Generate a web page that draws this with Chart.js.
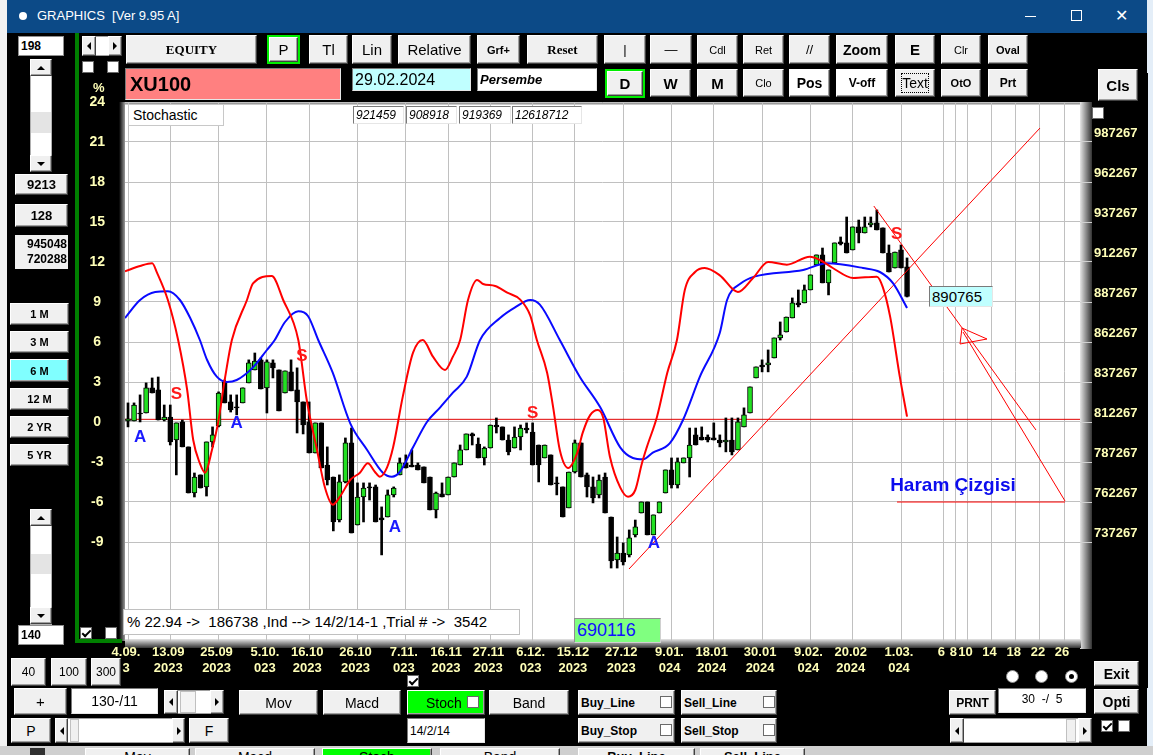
<!DOCTYPE html>
<html>
<head>
<meta charset="utf-8">
<title>GRAPHICS - XU100 Stochastic</title>
<script src="https://cdn.jsdelivr.net/npm/chart.js@4.4.0/dist/chart.umd.min.js"></script>
<style>
html,body{margin:0;padding:0;width:1153px;height:755px;overflow:hidden;background:#f2f2f2;font-family:"Liberation Sans",Arial,sans-serif;}
.a{position:absolute;box-sizing:border-box;}
.b{position:absolute;box-sizing:border-box;background:#f0f0f0;border:1px solid;border-color:#ffffff #404040 #404040 #ffffff;box-shadow:inset -1px -1px 0 #a0a0a0;display:flex;align-items:center;justify-content:center;color:#000;font-size:13px;white-space:nowrap;}
.s{position:absolute;box-sizing:border-box;background:#fff;border:1px solid;border-color:#7a7a7a #e6e6e6 #e6e6e6 #7a7a7a;display:flex;align-items:center;color:#000;white-space:pre;padding-left:2px;}
.cb{position:absolute;box-sizing:border-box;width:12px;height:12px;background:#fff;border:1px solid #6a6a6a;}
.cb.on::after{content:"";position:absolute;left:3px;top:0px;width:3px;height:7px;border:solid #000;border-width:0 2px 2px 0;transform:rotate(45deg);}
.tl{width:0;height:0;border-top:4px solid transparent;border-bottom:4px solid transparent;border-right:4px solid #000;}
.tr{width:0;height:0;border-top:4px solid transparent;border-bottom:4px solid transparent;border-left:4px solid #000;}
.tu{width:0;height:0;border-left:4px solid transparent;border-right:4px solid transparent;border-bottom:4px solid #000;}
.td{width:0;height:0;border-left:4px solid transparent;border-right:4px solid transparent;border-top:4px solid #000;}
.rad{position:absolute;box-sizing:border-box;width:13px;height:13px;border-radius:50%;background:#fff;border:1px solid #909090;}
</style>
</head>
<body>
<!-- window -->
<div class="a" style="left:1147px;top:0;width:6px;height:755px;background:#e4eef8"></div>
<div class="a" style="left:7px;top:0;width:1140px;height:746px;background:#000"></div>
<div class="a" style="left:7px;top:0;width:1140px;height:33px;background:#0c4a87"></div>
<div class="a" style="left:19px;top:12px;width:8px;height:8px;border-radius:50%;background:#fff"></div>
<div class="a" style="left:37px;top:8px;color:#fff;font-size:13px;white-space:pre">GRAPHICS  [Ver 9.95 A]</div>
<div class="a" style="left:1025px;top:16px;width:11px;height:1px;background:#fff"></div>
<div class="a" style="left:1071px;top:10px;width:11px;height:11px;border:1px solid #fff"></div>
<div class="a" style="left:1115px;top:6px;color:#fff;font-size:16px">✕</div>

<canvas id="c" width="1070" height="615" style="position:absolute;left:78px;top:73px;"></canvas>

<!-- green frame -->
<div class="a" style="left:75px;top:33px;width:4px;height:610px;background:#007f00"></div>
<div class="a" style="left:75px;top:639px;width:47px;height:4px;background:#007f00"></div>

<!-- left panel -->
<div class="s" style="left:18px;top:36px;width:46px;height:20px;font-weight:bold;font-size:12px;border:1px solid #909090">198</div>
<div class="a" style="left:30px;top:59px;width:22px;height:113px;background:#fff;border:1px solid #b0b0b0"></div>
<div class="b" style="left:30px;top:59px;width:22px;height:17px;"><div class="tu"></div></div>
<div class="a" style="left:31px;top:112px;width:20px;height:21px;background:#e4e4e4"></div>
<div class="b" style="left:30px;top:155px;width:22px;height:17px;"><div class="td"></div></div>
<div class="b" style="left:15px;top:174px;width:53px;height:21px;font-weight:bold;font-size:13px">9213</div>
<div class="b" style="left:15px;top:204px;width:53px;height:23px;font-weight:bold;font-size:13px">128</div>
<div class="a" style="left:15px;top:235px;width:53px;height:34px;background:#f0f0f0;font-weight:bold;font-size:12px;text-align:right;line-height:15px;padding:2px 1px 0 0">945048<br>720288</div>
<div class="b" style="left:10px;top:303px;width:59px;height:22px;font-weight:bold;font-size:11px">1 M</div>
<div class="b" style="left:10px;top:331px;width:59px;height:22px;font-weight:bold;font-size:11px">3 M</div>
<div class="b" style="left:10px;top:359px;width:59px;height:23px;font-weight:bold;font-size:11px;background:#80ffff">6 M</div>
<div class="b" style="left:10px;top:388px;width:59px;height:22px;font-weight:bold;font-size:11px">12 M</div>
<div class="b" style="left:10px;top:416px;width:59px;height:22px;font-weight:bold;font-size:11px">2 YR</div>
<div class="b" style="left:10px;top:444px;width:59px;height:22px;font-weight:bold;font-size:11px">5 YR</div>
<div class="a" style="left:30px;top:509px;width:22px;height:116px;background:#fff;border:1px solid #b0b0b0"></div>
<div class="b" style="left:30px;top:509px;width:22px;height:17px;"><div class="tu"></div></div>
<div class="a" style="left:31px;top:554px;width:20px;height:20px;background:#e4e4e4"></div>
<div class="b" style="left:30px;top:607px;width:22px;height:17px;"><div class="td"></div></div>
<div class="s" style="left:18px;top:625px;width:46px;height:20px;font-weight:bold;font-size:12px;border:1px solid #909090">140</div>

<!-- top arrows, checkboxes, % -->
<div class="a" style="left:82px;top:36px;width:40px;height:20px;background:#fff;border:1px solid #a0a0a0"></div>
<div class="b" style="left:82px;top:36px;width:14px;height:20px;"><div class="tl"></div></div>
<div class="b" style="left:108px;top:36px;width:14px;height:20px;"><div class="tr"></div></div>
<div class="cb" style="left:82px;top:61px"></div>
<div class="cb" style="left:107px;top:61px"></div>
<div class="a" style="left:93px;top:80px;color:#ffffb8;font-weight:bold;font-size:13px">%</div>

<!-- top button row 1 -->
<div class="b" style="left:126px;top:35px;width:131px;height:29px;font-family:'Liberation Serif',serif;font-weight:bold;font-size:13px">EQUITY</div>
<div class="b" style="left:269px;top:37px;width:29px;height:25px;font-size:15px;outline:2px solid #00ee00">P</div>
<div class="b" style="left:309px;top:35px;width:39px;height:29px;font-size:15px">Tl</div>
<div class="b" style="left:352px;top:35px;width:40px;height:29px;font-size:15px">Lin</div>
<div class="b" style="left:398px;top:35px;width:73px;height:29px;font-size:15px">Relative</div>
<div class="b" style="left:477px;top:35px;width:43px;height:29px;font-size:11px;font-weight:bold">Grf+</div>
<div class="b" style="left:527px;top:35px;width:71px;height:29px;font-family:'Liberation Serif',serif;font-weight:bold;font-size:13px">Reset</div>
<div class="b" style="left:604px;top:35px;width:42px;height:29px;font-size:13px">|</div>
<div class="b" style="left:650px;top:35px;width:42px;height:29px;font-size:13px">—</div>
<div class="b" style="left:697px;top:35px;width:41px;height:29px;font-size:11px">Cdl</div>
<div class="b" style="left:743px;top:35px;width:41px;height:29px;font-size:11px">Ret</div>
<div class="b" style="left:789px;top:35px;width:41px;height:29px;font-size:13px">//</div>
<div class="b" style="left:836px;top:35px;width:52px;height:29px;font-size:14px;font-weight:bold">Zoom</div>
<div class="b" style="left:895px;top:35px;width:40px;height:29px;font-size:15px;font-weight:bold">E</div>
<div class="b" style="left:941px;top:35px;width:40px;height:29px;font-size:11px">Clr</div>
<div class="b" style="left:988px;top:35px;width:40px;height:29px;font-size:11px;font-weight:bold">Oval</div>

<!-- row 2 -->
<div class="s" style="left:125px;top:68px;width:216px;height:32px;background:#ff8080;font-weight:bold;font-size:20px;padding-left:4px">XU100</div>
<div class="s" style="left:352px;top:68px;width:119px;height:23px;background:#c0ffff;font-size:16px">29.02.2024</div>
<div class="s" style="left:477px;top:68px;width:120px;height:23px;font-style:italic;font-weight:bold;font-size:13px">Persembe</div>
<div class="b" style="left:607px;top:71px;width:36px;height:25px;font-size:15px;font-weight:bold;outline:2px solid #00ee00">D</div>
<div class="b" style="left:650px;top:69px;width:41px;height:28px;font-size:15px;font-weight:bold">W</div>
<div class="b" style="left:697px;top:69px;width:41px;height:28px;font-size:15px;font-weight:bold">M</div>
<div class="b" style="left:743px;top:69px;width:41px;height:28px;font-size:11px">Clo</div>
<div class="b" style="left:789px;top:69px;width:41px;height:28px;font-size:14px;font-weight:bold;background:#fff">Pos</div>
<div class="b" style="left:836px;top:69px;width:52px;height:28px;font-size:12px;font-weight:bold;background:#fff">V-off</div>
<div class="b" style="left:895px;top:69px;width:40px;height:28px;font-size:14px"><span style="border:1px dotted #000;padding:1px 0">Text</span></div>
<div class="b" style="left:941px;top:69px;width:40px;height:28px;font-size:11px;font-weight:bold">OtO</div>
<div class="b" style="left:988px;top:69px;width:40px;height:28px;font-size:12px;font-weight:bold">Prt</div>
<div class="b" style="left:1098px;top:69px;width:40px;height:32px;font-size:15px;font-weight:bold">Cls</div>
<div class="cb" style="left:1092px;top:107px"></div>

<!-- chart overlays -->
<div class="a" style="left:128px;top:104px;width:96px;height:22px;background:#fff;border:1px solid #c8c8c8;font-size:14px;padding:2px 0 0 4px;white-space:pre">Stochastic</div>
<div class="s" style="left:353px;top:106px;width:51px;height:18px;font-style:italic;font-size:12px">921459</div>
<div class="s" style="left:406px;top:106px;width:51px;height:18px;font-style:italic;font-size:12px">908918</div>
<div class="s" style="left:459px;top:106px;width:52px;height:18px;font-style:italic;font-size:12px">919369</div>
<div class="s" style="left:512px;top:106px;width:70px;height:18px;font-style:italic;font-size:12px">12618712</div>
<div class="s" style="left:929px;top:286px;width:64px;height:21px;background:#c0ffff;font-size:15px">890765</div>
<div class="a" style="left:123px;top:609px;width:397px;height:26px;background:#fff;border:1px solid #c0c0c0;font-size:15px;padding:3px 0 0 3px;white-space:pre">% 22.94 -&gt;  186738 ,Ind --&gt; 14/2/14-1 ,Trial # -&gt;  3542</div>
<div class="a" style="left:574px;top:618px;width:87px;height:25px;background:#80ff80;border:1px solid;border-color:#909090 #d0d0d0 #d0d0d0 #909090;color:#1010ff;font-size:18px;padding:1px 0 0 2px">690116</div>
<div class="cb on" style="left:80px;top:627px"></div>
<div class="cb" style="left:105px;top:627px"></div>

<!-- bottom controls -->
<div class="b" style="left:11px;top:658px;width:35px;height:28px;font-size:12px">40</div>
<div class="b" style="left:51px;top:658px;width:36px;height:28px;font-size:12px">100</div>
<div class="b" style="left:91px;top:658px;width:30px;height:28px;font-size:12px">300</div>
<div class="b" style="left:14px;top:688px;width:53px;height:27px;font-size:15px">+</div>
<div class="s" style="left:71px;top:688px;width:87px;height:26px;font-size:14px;justify-content:center;padding:0">130-/11</div>
<div class="a" style="left:164px;top:690px;width:60px;height:24px;background:#fff;border:1px solid #a0a0a0"></div>
<div class="b" style="left:164px;top:690px;width:14px;height:24px;"><div class="tl"></div></div>
<div class="a" style="left:180px;top:691px;width:16px;height:22px;background:#f4f4f4;border:1px solid #c0c0c0"></div>
<div class="b" style="left:210px;top:690px;width:14px;height:24px;"><div class="tr"></div></div>
<div class="b" style="left:239px;top:690px;width:79px;height:25px;font-size:14px">Mov</div>
<div class="b" style="left:323px;top:690px;width:78px;height:25px;font-size:14px">Macd</div>
<div class="b" style="left:407px;top:690px;width:78px;height:25px;font-size:14px;background:#00ff00;justify-content:flex-start;padding-left:18px">Stoch</div>
<div class="cb" style="left:467px;top:696px"></div>
<div class="b" style="left:489px;top:690px;width:80px;height:25px;font-size:14px">Band</div>
<div class="cb on" style="left:407px;top:675px"></div>
<div class="s" style="left:407px;top:718px;width:78px;height:25px;font-size:12px">14/2/14</div>
<div class="b" style="left:11px;top:718px;width:40px;height:25px;font-size:14px">P</div>
<div class="a" style="left:55px;top:718px;width:130px;height:25px;background:#fff;border:1px solid #a0a0a0"></div>
<div class="b" style="left:55px;top:718px;width:13px;height:25px;"><div class="tl"></div></div>
<div class="a" style="left:70px;top:719px;width:9px;height:23px;background:#f0f0f0;border:1px solid #c0c0c0"></div>
<div class="b" style="left:172px;top:718px;width:13px;height:25px;"><div class="tr"></div></div>
<div class="b" style="left:189px;top:718px;width:40px;height:25px;font-size:14px">F</div>

<div class="b" style="left:578px;top:690px;width:97px;height:25px;font-size:12px;font-weight:bold;justify-content:flex-start;padding-left:2px">Buy_Line</div>
<div class="cb" style="left:660px;top:696px"></div>
<div class="b" style="left:681px;top:690px;width:96px;height:25px;font-size:12px;font-weight:bold;justify-content:flex-start;padding-left:2px">Sell_Line</div>
<div class="cb" style="left:763px;top:696px"></div>
<div class="b" style="left:578px;top:718px;width:97px;height:25px;font-size:12px;font-weight:bold;justify-content:flex-start;padding-left:2px">Buy_Stop</div>
<div class="cb" style="left:660px;top:724px"></div>
<div class="b" style="left:681px;top:718px;width:96px;height:25px;font-size:12px;font-weight:bold;justify-content:flex-start;padding-left:2px">Sell_Stop</div>
<div class="cb" style="left:763px;top:724px"></div>

<div class="rad" style="left:1006px;top:670px"></div>
<div class="rad" style="left:1035px;top:670px"></div>
<div class="rad" style="left:1065px;top:670px"></div>
<div class="a" style="left:1069px;top:674px;width:5px;height:5px;border-radius:50%;background:#000"></div>
<div class="b" style="left:1094px;top:661px;width:45px;height:25px;font-size:14px;font-weight:bold">Exit</div>
<div class="b" style="left:949px;top:690px;width:47px;height:25px;font-size:12px;font-weight:bold">PRNT</div>
<div class="s" style="left:998px;top:688px;width:88px;height:25px;font-size:12px;justify-content:center;padding:0;align-items:flex-start;padding-top:3px">30  -/  5</div>
<div class="b" style="left:1094px;top:689px;width:45px;height:25px;font-size:14px;font-weight:bold">Opti</div>
<div class="a" style="left:950px;top:718px;width:142px;height:25px;background:#fff;border:1px solid #a0a0a0"></div>
<div class="b" style="left:950px;top:718px;width:14px;height:25px;"><div class="tl"></div></div>
<div class="a" style="left:1066px;top:719px;width:10px;height:23px;background:#f0f0f0;border:1px solid #c0c0c0"></div>
<div class="b" style="left:1078px;top:718px;width:14px;height:25px;"><div class="tr"></div></div>
<div class="cb on" style="left:1101px;top:720px"></div>
<div class="cb" style="left:1118px;top:720px"></div>

<!-- window behind (bottom strip) -->
<div class="a" style="left:0;top:746px;width:1153px;height:9px;background:#cfcfcf;overflow:hidden">
  <div class="a" style="left:30px;top:2px;width:15px;height:20px;background:#303030"></div>
  <div class="b" style="left:85px;top:2px;width:105px;height:20px;font-size:14px;align-items:flex-start">Mav</div>
  <div class="b" style="left:195px;top:2px;width:120px;height:20px;font-size:14px;align-items:flex-start">Macd</div>
  <div class="b" style="left:322px;top:2px;width:110px;height:20px;font-size:14px;align-items:flex-start;background:#00ff00">Stoch</div>
  <div class="b" style="left:440px;top:2px;width:120px;height:20px;font-size:14px;align-items:flex-start">Band</div>
  <div class="b" style="left:578px;top:2px;width:117px;height:20px;font-size:13px;font-weight:bold;align-items:flex-start">Buy_Line</div>
  <div class="b" style="left:700px;top:2px;width:105px;height:20px;font-size:13px;font-weight:bold;align-items:flex-start">Sell_Line</div>
</div>

<script>
// ---------- DATA ----------
// trading-day index 0 = 4.09.2023 ... 129 = last bar
const tickIndex = [0,7,15,23,30,38,46,53,60,67,74,82,90,97,105,113,120,128,135,137,139,143,147,151,155];
const tickLabels = [["4.09.","3"],["13.09","2023"],["25.09","2023"],["5.10.","023"],["16.10","2023"],["26.10","2023"],
  ["7.11.","023"],["16.11","2023"],["27.11","2023"],["6.12.","023"],["15.12","2023"],["27.12","2023"],
  ["9.01.","024"],["18.01","2024"],["30.01","2024"],["9.02.","024"],["20.02","2024"],["1.03.","024"],
  "6","8","10","14","18","22","26"];
const pctTicks = [-9,-6,-3,0,3,6,9,12,15,18,21,24];
const priceTicks = [737267,762267,787267,812267,837267,862267,887267,912267,937267,962267,987267];

const open = [812900,812900,817900,817900,833600,832300,813500,815400,801000,812300,
796700,767900,779200,771700,799800,809800,837300,824800,821700,824200,
836700,844800,851100,833600,849200,844800,830400,843600,832300,824800,
812300,792900,811700,785400,777900,751000,774800,799200,747900,765400,
771700,771700,752300,752900,766700,779200,786700,785400,785400,784200,
777900,757300,767300,766700,777900,785400,794800,804800,798500,789800,
796000,810400,809200,801000,796000,802900,808500,806000,797900,789800,
791700,774200,771700,758600,781000,799200,779200,771700,766700,777900,
752900,726000,730400,729200,741700,755400,762300,741700,755400,767900,
782300,772900,786700,789800,804200,802900,802900,802300,801000,799800,
801000,794800,809200,817900,839800,847900,847900,852300,864800,868500,
877300,886700,886700,894800,910400,916700,899200,911700,924800,924200,
919800,934200,930400,935400,936700,933600,917900,908500,919800,909200];
const high = [824200,824200,829200,836700,839800,840400,822900,822900,811700,813500,
796700,780400,779200,799800,809200,831100,838500,829200,829200,833600,
851100,855400,852300,851100,851100,844800,844200,851100,846100,824800,
824800,811700,811700,796700,777900,779200,802300,808500,774200,774200,
774200,772900,759200,769800,771700,789800,791700,794800,786700,784200,
777900,768500,774200,777900,786700,797900,804800,805400,802300,796700,
810400,814800,809200,804200,809200,810400,811700,811700,797900,797900,
791700,777900,771700,781000,801000,799200,780400,777900,779200,780400,
752900,740400,736700,744800,751000,762300,762300,754200,762300,782300,
789800,789800,789800,808500,808500,809200,804200,811700,804200,814800,
814800,814800,821100,834200,846700,851100,857300,864800,874800,877900,
889800,894800,897900,904200,916700,921000,907300,924200,927900,940400,
934200,938500,940400,940400,944800,933600,922900,918500,922900,914800];
const low = [809200,812900,812300,817900,830400,813500,812900,797900,779200,796700,
767900,765400,771000,766000,796700,809200,824200,818500,816700,824200,
836700,844800,832900,817900,839800,819200,830400,831700,805400,804800,
792900,792900,783500,772900,744200,749800,774200,742900,747900,749800,
763500,749800,729200,752900,765400,779200,783500,784200,782300,774200,
757300,752300,765400,766700,777900,785400,794800,797900,789800,785400,
796000,805400,801000,791700,796000,794800,805400,785400,774800,789800,
772900,766700,752900,758600,780400,777900,765400,761700,764800,755400,
721000,721000,722900,727900,740400,755400,741700,741700,755400,767900,
771000,771000,786700,777900,797900,801000,799800,801000,796700,793600,
791700,794800,809200,817900,839800,843600,843600,852300,863500,868500,
877300,884200,886700,894800,910400,899200,891700,911700,922900,917900,
919800,924200,930400,934200,932300,917900,906000,908500,908500,890400];
const close = [814200,822900,817300,833600,830400,813500,815400,799800,811700,796700,
767900,777900,771000,799800,804200,830400,824200,819800,821100,833600,
849200,850400,832900,849800,846100,819200,844200,831700,824800,810400,
792900,811700,783500,776000,749800,774800,799200,742900,765400,771000,
771000,749800,751000,766700,771000,786700,783500,784200,782300,774200,
757300,767900,765400,777900,786700,794800,804800,803500,789800,796000,
810400,809200,801000,793600,802900,808500,807300,785400,785400,797900,
772900,773500,752900,781000,799200,777900,771700,764800,776000,755400,
725400,730400,724800,739800,746700,762300,741700,754200,762300,782300,
772900,787300,789800,797900,797900,801000,801000,801000,799200,801000,
793600,812300,816700,834200,846700,846700,849200,864800,866700,877900,
886700,885400,894800,904200,916700,899200,907300,924200,923500,917900,
934200,930400,934200,936700,932300,917900,906000,918500,908500,890765];

// Stochastic lines (percent axis), sampled where read
const redX = [-0.5,2.0,4.0,4.8,6.6,8.3,9.8,10.8,11.9,12.75,13.9,14.9,16.1,17.2,19.7,20.7,23.8,25.7,28.2,29.6,31.3,32.6,33.9,35.1,36.8,38.4,39.7,40.9,41.7,42.9,43.9,45.5,47.2,48.8,50.5,52.5,53.8,55.0,56.3,57.8,58.8,60.8,62.8,64.9,66.6,67.7,69.4,70.4,71.5,72.9,74.4,75.3,76.5,77.8,78.7,79.8,81.5,82.8,84.0,85.1,85.9,87.6,89.3,90.9,92.2,93.9,95.5,98.0,101.0,103.5,106.0,109.1,112.9,114.6,116.7,120.1,124.0,125.0,126.2,127.8,129.0];
const redK = [11.3,11.7,11.9,11.2,9.15,6.15,2.4,-1.35,-3.1,-3.8,-2.1,-0.1,3.4,6.15,9.15,10.4,10.95,9.15,6.15,1.65,-2.1,-4.9,-6.2,-5.6,-4.35,-3.8,-3.1,-3.75,-4.1,-3.4,-1.9,1.9,5.2,6.15,4.9,3.9,4.9,6.15,9.15,10.65,10.35,10.2,9.7,9.2,8.0,6.15,3.7,1.1,-2.1,-3.45,-2.3,-0.8,0.5,0.9,0.3,-2.6,-4.9,-5.6,-5.1,-3.1,-1.9,0.4,3.7,6.15,9.9,11.25,11.55,11.0,9.75,10.8,12.0,11.8,12.4,12.15,11.55,10.8,10.9,10.1,7.9,3.4,0.4];
const blueX = [-0.5,2.0,4.5,6.6,8.6,10.3,11.9,13.1,14.7,16.4,18.0,20.7,23.0,24.3,26.0,28.2,29.8,31.5,33.9,36.8,39.6,42.2,43.7,45.0,47.2,49.5,51.7,53.8,56.1,58.3,61.6,64.1,66.6,68.2,71.5,74.8,78.2,81.5,83.6,85.3,86.9,89.7,91.9,94.7,98.0,99.2,101.5,103.7,111.8,115.7,121.7,124.5,126.7,129.0];
const blueD = [7.8,9.15,9.75,9.8,9.15,7.8,6.15,4.65,3.4,3.0,3.15,4.1,5.4,6.15,7.5,8.3,7.95,6.15,3.7,-0.1,-2.1,-3.8,-4.1,-3.75,-1.9,0.0,1.1,2.2,3.4,6.15,7.8,8.6,9.15,8.8,6.15,3.4,1.1,-1.9,-2.7,-2.8,-2.3,-1.6,0.15,3.4,6.7,9.15,10.4,10.9,11.4,11.9,11.55,11.25,10.4,8.55];
const zeroLevel = 0.2;

// Drawn lines (price axis): [x1, p1, x2, p2, ...]
const riseLine = [82.96, 720392, 151.02, 996017];
const fallLine = [123.5, 947267, 150.35, 807267];
const fallLine2 = [138.27, 868517, 155.16, 762892];
const arrowTri = [138.1, 871017, 142.24, 864142, 137.77, 861017, 138.1, 871017];
const haramLine = [127.34, 762267, 155.16, 762267];
const haramText = "Haram Çizgisi";
const haramPos = [126.2, 772267];

// S / A signal marks
const sigText = ["S","S","S","S","A","A","A","A"];
const sigX = [8, 28.8, 67, 127.3, 2, 18, 44.2, 87.1];
const sigPrice = [829800, 853500, 817900, 929800, 802900, 811600, 746600, 736600];

// ---------- CHART ----------
const GREEN = '#22e022';
const X_MIN = -0.497, X_MAX = 157.64;
const Y_MIN = -16.425, Y_MAX = 24;
const P_MIN = 675392, P_MAX = 1012267;
const YEL = '#ffffb8';
const FONT = '"Liberation Sans", Arial, sans-serif';

const idx = open.map((_, i) => i);
const pairs = arr => { const o = []; for (let i = 0; i < arr.length; i += 2) o.push({x: arr[i], y: arr[i + 1]}); return o; };

function drawLine(data, axis, color, width, order) {
  return {type: 'line', data, yAxisID: axis, borderColor: color, borderWidth: width,
    pointRadius: 0, fill: false, tension: 0, order};
}

const framePlugin = {
  id: 'frame',
  beforeDraw(chart) {
    const {ctx, chartArea: a, width, height} = chart;
    ctx.save();
    ctx.fillStyle = '#000';
    ctx.fillRect(0, 0, width, height);
    ctx.fillStyle = '#fff';
    ctx.fillRect(a.left, a.top, a.right - a.left, a.bottom - a.top);
    let g = ctx.createLinearGradient(a.right, 0, a.right + 12, 0);
    g.addColorStop(0, '#e6e6e6'); g.addColorStop(1, '#333');
    ctx.fillStyle = g; ctx.fillRect(a.right, a.top, 12, a.bottom - a.top + 8);
    g = ctx.createLinearGradient(0, a.bottom - 2, 0, a.bottom + 7);
    g.addColorStop(0, '#e6e6e6'); g.addColorStop(1, '#333');
    ctx.fillStyle = g; ctx.fillRect(a.left, a.bottom - 2, a.right - a.left + 1, 9);
    g = ctx.createLinearGradient(a.left - 6, 0, a.left, 0);
    g.addColorStop(0, '#000'); g.addColorStop(1, '#9a9a9a');
    ctx.fillStyle = g; ctx.fillRect(a.left - 6, a.top, 6, a.bottom - a.top);
    g = ctx.createLinearGradient(0, a.top, 0, a.top + 3);
    g.addColorStop(0, '#555'); g.addColorStop(1, '#e0e0e0');
    ctx.fillStyle = g; ctx.fillRect(a.left, a.top, a.right - a.left, 3);
    ctx.restore();
  }
};

const notePlugin = {
  id: 'notes',
  afterDatasetsDraw(chart) {
    const {ctx, scales: {x, yP}} = chart;
    ctx.save();
    ctx.textAlign = 'center';
    ctx.textBaseline = 'middle';
    ctx.font = 'bold 17px ' + FONT;
    sigText.forEach((t, i) => {
      ctx.fillStyle = t === 'S' ? '#ff1a1a' : '#1a1aff';
      ctx.fillText(t, x.getPixelForValue(sigX[i]), yP.getPixelForValue(sigPrice[i]));
    });
    ctx.textAlign = 'left';
    ctx.font = 'bold 19px ' + FONT;
    ctx.fillStyle = '#0c0cee';
    ctx.fillText(haramText, x.getPixelForValue(haramPos[0]), yP.getPixelForValue(haramPos[1]));
    ctx.restore();
  }
};

new Chart(document.getElementById('c'), {
  type: 'bar',
  data: {
    datasets: [
      drawLine([{x: X_MIN, y: zeroLevel}, {x: X_MAX, y: zeroLevel}], 'y', '#e00000', 1, 20),
      {type: 'bar', label: 'range', yAxisID: 'yP', grouped: false, barThickness: 2,
        data: idx.map(i => ({x: i, y: [low[i], high[i]]})),
        backgroundColor: '#000', borderWidth: 0, order: 15},
      {type: 'bar', label: 'body', yAxisID: 'yP', grouped: false, barThickness: 5,
        data: idx.map(i => ({x: i, y: [Math.min(open[i], close[i]), Math.max(open[i], close[i])]})),
        backgroundColor: idx.map(i => close[i] >= open[i] ? GREEN : '#000'),
        borderColor: '#000', borderWidth: 1, borderSkipped: false, order: 14},
      drawLine(pairs(riseLine), 'yP', '#ff0000', 1, 4),
      drawLine(pairs(fallLine), 'yP', '#ff0000', 1, 4),
      drawLine(pairs(fallLine2), 'yP', '#ff0000', 1, 4),
      drawLine(pairs(arrowTri), 'yP', '#ff0000', 1, 4),
      drawLine(pairs(haramLine), 'yP', '#ff0000', 1, 4),
      {type: 'line', label: '%D', yAxisID: 'y', data: blueX.map((v, i) => ({x: v, y: blueD[i]})),
        borderColor: '#0a0aff', borderWidth: 2, pointRadius: 0, fill: false,
        cubicInterpolationMode: 'monotone', order: 2},
      {type: 'line', label: '%K', yAxisID: 'y', data: redX.map((v, i) => ({x: v, y: redK[i]})),
        borderColor: '#ff0000', borderWidth: 2, pointRadius: 0, fill: false,
        cubicInterpolationMode: 'monotone', order: 1}
    ]
  },
  options: {
    responsive: false, animation: false, devicePixelRatio: 1, events: [],
    layout: {padding: {top: 29, left: 0, right: 0, bottom: 0}},
    plugins: {legend: {display: false}, tooltip: {enabled: false}},
    scales: {
      x: {
        type: 'linear', min: X_MIN, max: X_MAX, offset: false,
        grid: {color: '#c0c0c0', drawTicks: false, offset: false},
        border: {display: false},
        afterBuildTicks: s => { s.ticks = tickIndex.map(v => ({value: v})); },
        afterFit: s => { s.height = 47; },
        ticks: {autoSkip: false, maxRotation: 0, minRotation: 0, color: YEL, padding: 4, labelOffset: -2,
          font: {family: FONT, size: 13, weight: 'bold'},
          callback: v => { const k = tickIndex.indexOf(v); return k >= 0 ? tickLabels[k] : ''; }}
      },
      y: {
        type: 'linear', position: 'left', min: Y_MIN, max: Y_MAX,
        grid: {color: '#c0c0c0', drawTicks: false},
        border: {display: false},
        afterBuildTicks: s => { s.ticks = pctTicks.map(v => ({value: v})); },
        afterFit: s => { s.width = 47; },
        ticks: {color: YEL, padding: 20, crossAlign: 'center', font: {family: FONT, size: 14, weight: 'bold'},
          callback: v => String(v)}
      },
      yP: {
        type: 'linear', position: 'right', min: P_MIN, max: P_MAX,
        grid: {drawOnChartArea: false, drawTicks: true, tickLength: 12, tickColor: '#d0d0d0', color: '#d0d0d0'},
        border: {display: false},
        afterBuildTicks: s => { s.ticks = priceTicks.map(v => ({value: v})); },
        afterFit: s => { s.width = 68; },
        ticks: {color: YEL, padding: 2, labelOffset: -9, crossAlign: 'near',
          font: {family: FONT, size: 13, weight: 'bold'}, callback: v => String(v)}
      }
    }
  },
  plugins: [framePlugin, notePlugin]
});
</script>
</body>
</html>
